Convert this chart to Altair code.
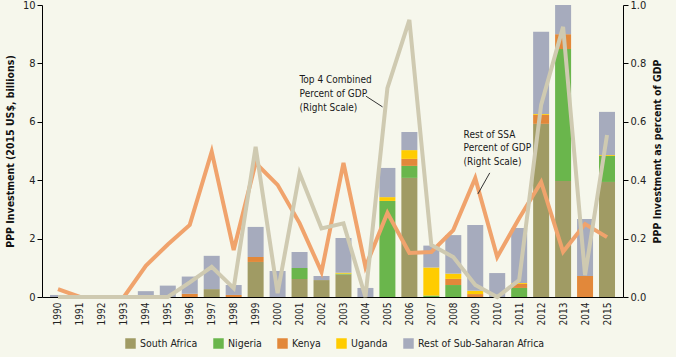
import altair as alt
import pandas as pd

years = list(range(1990, 2016))

south_africa = [0, 0, 0, 0, 0, 0, 0, 0.27, 0, 1.20, 0, 0.62, 0.58, 0.77, 0, 0, 4.08, 0, 0, 0, 0, 0, 5.93, 3.97, 0, 3.94]
nigeria      = [0, 0, 0, 0, 0, 0, 0, 0, 0, 0, 0, 0.37, 0, 0.03, 0, 3.29, 0.41, 0.05, 0.41, 0, 0, 0.31, 0, 4.52, 0, 0.89]
kenya        = [0, 0, 0, 0, 0, 0, 0.11, 0, 0.07, 0.17, 0, 0, 0, 0, 0, 0, 0.24, 0, 0.21, 0.10, 0, 0.14, 0.31, 0.51, 0.72, 0]
uganda       = [0, 0, 0, 0, 0, 0, 0, 0, 0, 0, 0, 0, 0, 0.03, 0, 0.13, 0.30, 0.96, 0.18, 0.11, 0, 0.03, 0.03, 0, 0, 0.03]
rest_ssa     = [0.07, 0, 0, 0, 0.20, 0.39, 0.59, 1.14, 0.34, 1.03, 0.89, 0.55, 0.14, 1.19, 0.31, 1.00, 0.62, 0.75, 1.32, 2.26, 0.82, 1.88, 2.81, 1.60, 1.95, 1.48]

rest_pct_gdp = [0.027, 0.0, 0.0, 0.0, 0.107, 0.180, 0.247, 0.498, 0.161, 0.459, 0.384, 0.253, 0.086, 0.459, 0.103, 0.288, 0.151, 0.154, 0.229, 0.407, 0.137, 0.27, 0.394, 0.155, 0.25, 0.205]
top4_pct_gdp = [0.0, 0.0, 0.0, 0.0, 0.0, 0.0, 0.05, 0.103, 0.03, 0.514, 0.013, 0.424, 0.235, 0.252, 0.0, 0.715, 0.949, 0.178, 0.137, 0.041, 0.0, 0.058, 0.658, 0.925, 0.075, 0.555]

countries = ["South Africa", "Nigeria", "Kenya", "Uganda", "Rest of Sub-Saharan Africa"]
colors = ["#a09b64", "#6ab64c", "#e2883a", "#ffcc00", "#a6abbd"]
series = [south_africa, nigeria, kenya, uganda, rest_ssa]

rows = []
for ci, (name, vals) in enumerate(zip(countries, series)):
    for y, v in zip(years, vals):
        rows.append({"year": y, "country": name, "value": v, "ord": ci})
bars_df = pd.DataFrame(rows)

lines_df = pd.DataFrame({"year": years, "rest": rest_pct_gdp, "top4": top4_pct_gdp})

ann_text = pd.DataFrame({
    "x": [2001.0, 2001.0, 2001.0, 2008.47, 2008.47, 2008.47],
    "y": [0.743, 0.695, 0.647, 0.555, 0.510, 0.462],
    "t": ["Top 4 Combined", "Percent of GDP", "(Right Scale)",
          "Rest of SSA", "Percent of GDP", "(Right Scale)"],
})
ann_lines = pd.DataFrame({
    "x": [2004.02, 2009.66], "x2": [2004.78, 2009.12],
    "y": [0.688, 0.425], "y2": [0.651, 0.353],
})

FONT = "DejaVu Sans Condensed"

xscale = alt.Scale(domain=[1989.5, 2015.5], nice=False, zero=False)
xaxis = alt.Axis(values=years, format="d", labelAngle=270, tickSize=0, grid=False,
                 labelFontSize=10, labelPadding=5, title=None, domainColor="#000",
                 labelColor="#222", labelFont=FONT, labelOverlap=False,
                 labelFlush=False)
rscale = alt.Scale(domain=[0, 1], nice=False)
raxis = alt.Axis(orient="right", values=[0, 0.2, 0.4, 0.6, 0.8, 1.0],
                 format=".1f", grid=False, tickSize=5, tickColor="#000",
                 domainColor="#000", labelFontSize=11, labelFont=FONT,
                 labelColor="#222",
                 title="PPP Investment as percent of GDP", titleAngle=270,
                 titleBaseline="top",
                 titleFont=FONT, titleFontSize=10.5, titleFontWeight="bold",
                 titleColor="#111", titlePadding=7)
laxis = alt.Axis(values=[0, 2, 4, 6, 8, 10], grid=False, tickSize=5,
                 tickColor="#000", domainColor="#000", labelFontSize=11,
                 labelFont=FONT, labelColor="#222",
                 title="PPP Investment (2015 US$, billions)",
                 titleFont=FONT, titleFontSize=10.5, titleFontWeight="bold",
                 titleColor="#111", titlePadding=7)

bars = alt.Chart(bars_df).mark_bar(size=16, clip=True).encode(
    x=alt.X("year:Q", scale=xscale, axis=xaxis),
    y=alt.Y("sum(value):Q", stack="zero",
            scale=alt.Scale(domain=[0, 10], nice=False), axis=laxis),
    color=alt.Color("country:N", scale=alt.Scale(domain=countries, range=colors),
                    legend=alt.Legend(title=None, orient="none", direction="horizontal",
                                      legendX=83, legendY=333, symbolType="square",
                                      symbolSize=110, symbolStrokeWidth=0,
                                      labelFont=FONT, labelFontSize=10.5,
                                      labelColor="#222", columnPadding=15,
                                      symbolOpacity=1)),
    order=alt.Order("ord:Q"),
)

line_rest = alt.Chart(lines_df).mark_line(color="#f0a36c", strokeWidth=4).encode(
    x=alt.X("year:Q", scale=xscale, axis=xaxis),
    y=alt.Y("rest:Q", scale=rscale, axis=raxis),
)
line_top4 = alt.Chart(lines_df).mark_line(color="#cfcab1", strokeWidth=4).encode(
    x=alt.X("year:Q", scale=xscale, axis=xaxis),
    y=alt.Y("top4:Q", scale=rscale, axis=raxis),
)
texts = alt.Chart(ann_text).mark_text(align="left", baseline="middle", font=FONT,
                                      fontSize=10, color="#1a1a1a").encode(
    x=alt.X("x:Q", scale=xscale, axis=xaxis),
    y=alt.Y("y:Q", scale=rscale, axis=raxis),
    text="t:N",
)
leaders = alt.Chart(ann_lines).mark_rule(color="#333", strokeWidth=1).encode(
    x=alt.X("x:Q", scale=xscale, axis=xaxis),
    x2="x2:Q",
    y=alt.Y("y:Q", scale=rscale, axis=raxis),
    y2="y2:Q",
)

right = alt.layer(line_rest, line_top4, texts, leaders)

chart = alt.layer(bars, right).resolve_scale(y="independent").properties(
    width=581, height=292,
    background="#f6f7ec",
    padding={"left": 42, "top": 5, "right": 53, "bottom": 60},
    autosize=alt.AutoSizeParams(type="none"),
).configure_view(stroke=None)

chart.save("out.html", embed_options={"renderer": "svg", "actions": False})
